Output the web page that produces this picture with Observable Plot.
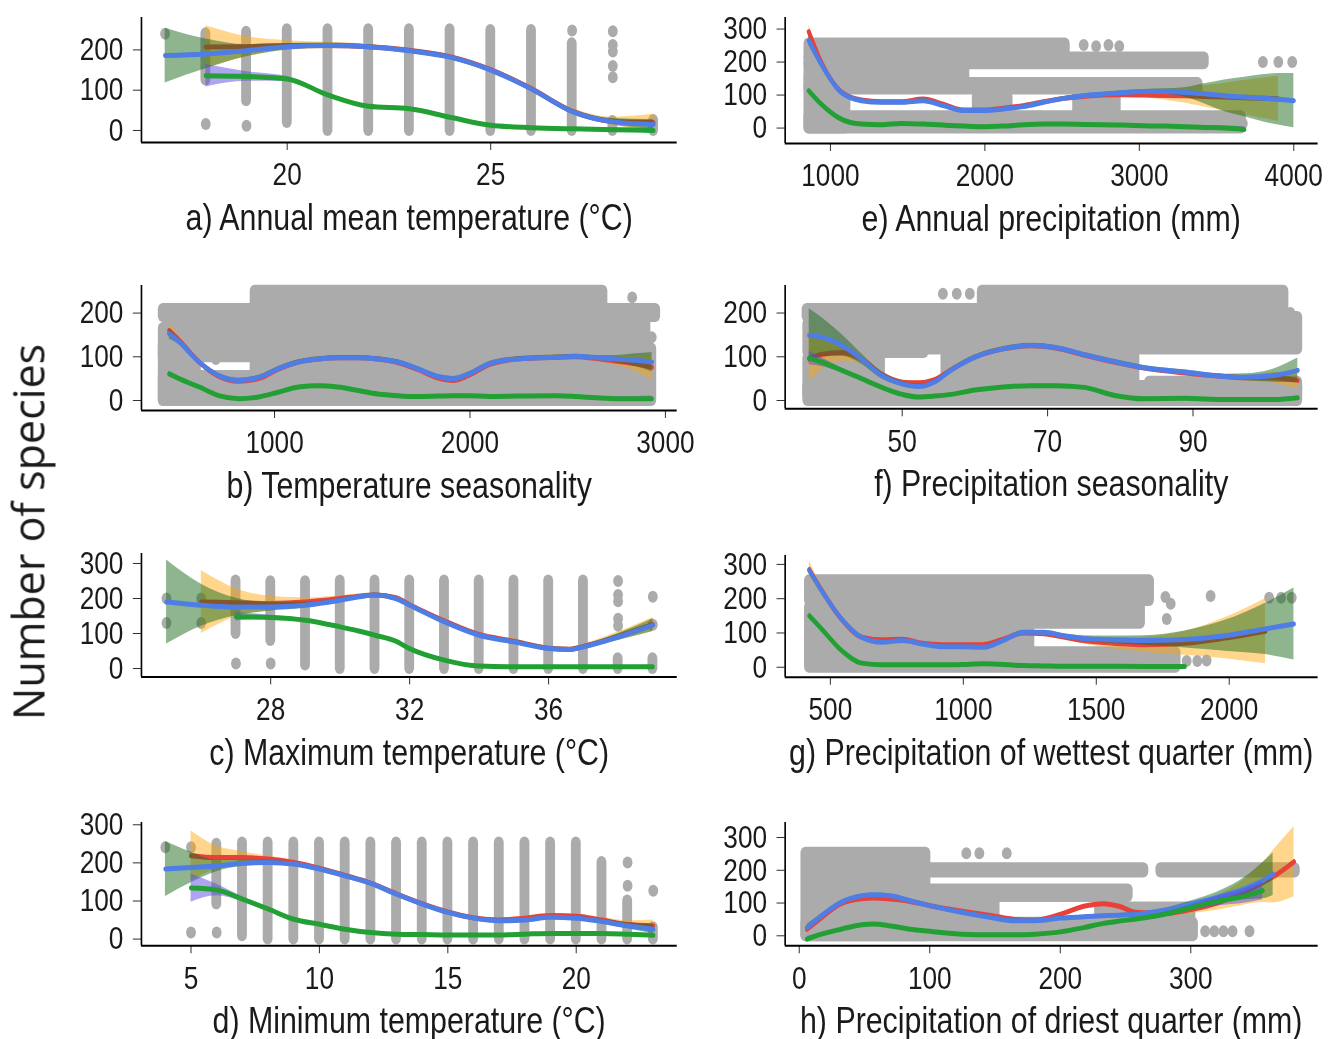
<!DOCTYPE html>
<html>
<head>
<meta charset="utf-8">
<script src="https://cdn.jsdelivr.net/npm/d3@7"></script>
<script src="https://cdn.jsdelivr.net/npm/@observablehq/plot@0.6"></script>
<style>
  html, body { margin: 0; padding: 0; background: #fff; width: 1333px; height: 1039px; overflow: hidden; }
  #stage { position: absolute; left: 0; top: 0; height: 1039px; transform-origin: 0 0; }
  .panel { position: absolute; }
  .title { position: absolute; text-align: center; font-family: 'Liberation Sans', Arial, sans-serif;
           font-size: 37px; line-height: 37px; color: #1a1a1a; white-space: nowrap; }
  #ylab { position: absolute; left: 28px; top: 532px; transform: translate(-50%, -50%) rotate(-90deg);
          font-family: 'Open Sans', sans-serif; font-size: 43px; line-height: 1; color: #1a1a1a; white-space: nowrap; }
</style>
</head>
<body>
<div id="stage"></div>
<div id="ylab">Number of species</div>
<script>
// ---------- a) Annual mean temperature ----------
const aCurveX  = [17, 18, 19, 20, 21, 22, 23, 24, 25, 26, 27, 28, 29];
const aRed     = [null, 207, 208, 211, 211, 208, 199, 183, 151, 104, 48, 23, 20];
const aBlue    = [186, 190, 198, 208, 211, 208, 198, 182, 150, 103, 47, 22, 15];
const aGreen   = [null, 136, 134, 128, 88, 60, 54, 33, 13, 7, 4, 2, 0];
const aRedCI   = [null, 53, 25, 12, 8, 6, 5, 5, 5, 6, 7, 10, 20];
const aBlueCI  = [68, 37, 15, 8, 6, 5, 5, 5, 5, 5, 6, 8, 12];
const aGreenCI = [null, 28, 12, 6, 5, 4, 4, 4, 3, 3, 3, 4, 6];
const aColumns = [[18, 125, 240], [19, 74, 244], [20, 20, 250], [21, 0, 250], [22, 0, 250], [23, 0, 250],
                  [24, 0, 250], [25, 0, 248], [26, 0, 248], [27, 0, 215], [28, 0, 22], [29, 0, 25]];
const aPoints  = [[17, 240], [18, 16], [19, 12], [27, 248], [28, 246], [28, 212], [28, 196], [28, 160], [28, 132]];

// ---------- e) Annual precipitation ----------
const eCurveX  = [860, 940, 1070, 1200, 1330, 1460, 1600, 1730, 1860, 1990, 2120, 2250, 2380, 2510, 2640, 2770, 2900, 3030, 3160, 3290, 3420, 3550, 3680, 3810, 3900, 4000];
const eRed     = [292, 200, 110, 85, 80, 80, 88, 72, 55, 55, 60, 68, 80, 90, 96, 100, 101, 100, 99, 98, 96, 94, 92, 90, 89, null];
const eBlue    = [265, 194, 108, 83, 78, 78, 83, 68, 53, 53, 58, 65, 78, 90, 98, 103, 108, 111, 111, 108, 104, 98, 94, 90, 87, 83];
const eGreen   = [113, 73, 27, 12, 10, 14, 12, 9, 6, 4, 6, 10, 12, 12, 11, 10, 9, 7, 6, 4, 2, 0, -4, null, null, null];
const eRedCI   = [20, 10, 6, 5, 5, 5, 5, 5, 5, 5, 5, 5, 5, 5, 5, 5, 6, 8, 14, 22, 32, 42, 52, 62, 68, null];
const eBlueCI  = [15, 8, 5, 5, 5, 5, 5, 5, 5, 5, 5, 5, 5, 5, 5, 5, 5, 6, 8, 14, 30, 48, 60, 72, 78, 82];
const eGreenCI = [8, 4, 3, 3, 3, 3, 3, 3, 3, 3, 3, 3, 3, 3, 3, 3, 3, 3, 3, 4, 5, 6, 8, null, null, null];
const eClouds  = [[860, 2520, 215, 255], [860, 3420, 195, 212], [860, 1870, 150, 195], [860, 3380, 118, 135],
                  [860, 1100, 0, 150], [860, 3660, 0, 34], [2600, 2850, 45, 100], [1950, 2150, 55, 95]];
const ePoints  = [[3800, 200], [3900, 200], [3990, 200], [2640, 252], [2720, 248], [2800, 252], [2870, 248], [3600, 20], [3670, 14]];

// ---------- b) Temperature seasonality ----------
const bCurveX  = [461, 512, 614, 715, 817, 919, 1020, 1122, 1224, 1325, 1427, 1528, 1630, 1732, 1833, 1915, 1996, 2098, 2240, 2443, 2545, 2646, 2748, 2850, 2931];
const bRed     = [160, 138, 88, 55, 44, 50, 72, 88, 95, 98, 98, 95, 87, 71, 52, 46, 58, 82, 95, 99, 100, 96, 90, 84, 76];
const bBlue    = [153, 134, 88, 57, 46, 53, 73, 88, 95, 98, 98, 95, 88, 73, 55, 50, 61, 84, 95, 99, 101, 98, 95, 92, 88];
const bGreen   = [61, 50, 31, 11, 4, 8, 19, 31, 34, 31, 23, 15, 11, 9, 10, 11, 11, 9, 10, 11, 9, 6, 4, 4, 4];
const bRedCI   = [18, 8, 5, 5, 5, 5, 5, 5, 5, 5, 5, 5, 5, 5, 5, 5, 5, 5, 5, 5, 5, 6, 10, 18, 28];
const bBlueCI  = [12, 6, 5, 5, 5, 5, 5, 5, 5, 5, 5, 5, 5, 5, 5, 5, 5, 5, 5, 5, 5, 5, 8, 15, 22];
const bGreenCI = [6, 4, 3, 3, 3, 3, 3, 3, 3, 3, 3, 3, 3, 3, 3, 3, 3, 3, 3, 3, 3, 3, 4, 5, 6];
const bClouds  = [[430, 2950, 192, 208], [900, 2680, 210, 250], [1000, 2900, 122, 190], [430, 1000, 100, 165],
                  [430, 2930, 0, 55], [900, 2930, 60, 118], [430, 600, 0, 125]];
const bPoints  = [[2830, 236], [2870, 170], [2930, 145], [700, 95]];

// ---------- f) Precipitation seasonality ----------
const fCurveX  = [37.2, 38.9, 41.7, 44.4, 47.2, 50, 52.2, 54.4, 56.7, 60, 63.9, 67.8, 71.1, 75, 79.4, 83.3, 88.9, 94.4, 97.2, 101.1, 104.4];
const fRed     = [95, 105, 110, 95, 60, 42, 40, 47, 70, 99, 118, 125, 120, 104, 87, 74, 63, 55, 52, 52, 46];
const fBlue    = [149, 145, 126, 95, 57, 38, 32, 42, 69, 99, 118, 126, 121, 105, 88, 75, 65, 55, 53, 57, 69];
const fGreen   = [97, 88, 69, 50, 30, 14, 8, 10, 14, 24, 31, 34, 34, 30, 11, 4, 5, 2, 2, 2, 6];
const fRedCI   = [50, 35, 20, 10, 6, 5, 5, 5, 5, 5, 5, 5, 5, 5, 5, 5, 5, 5, 6, 12, 20];
const fBlueCI  = [61, 45, 25, 12, 8, 6, 5, 5, 5, 5, 5, 5, 5, 5, 5, 5, 5, 5, 8, 15, 28];
const fGreenCI = [15, 10, 5, 4, 3, 3, 3, 3, 3, 3, 3, 3, 3, 3, 3, 3, 3, 3, 3, 4, 5];
const fClouds  = [[36.9, 102.5, 192, 208], [61, 102.5, 212, 250], [52, 104.4, 118, 190], [37, 53, 110, 175],
                  [37, 104.4, 0, 32], [56, 82, 42, 100], [84, 104.4, 22, 42], [37, 47, 10, 96]];
const fPoints  = [[55.6, 244], [57.5, 244], [59.3, 244], [103.4, 200], [101, 176], [39, 200]];

// ---------- c) Maximum temperature ----------
const cCurveX  = [25, 26, 27, 28, 29, 30, 30.5, 31, 31.6, 32, 33, 34, 35, 36, 36.6, 37, 38, 39];
const cRed     = [null, 190, 188, 186, 190, 200, 206, 210, 202, 182, 136, 97, 78, 58, 55, 63, 92, 126];
const cBlue    = [190, 181, 176, 176, 181, 195, 204, 210, 200, 181, 133, 95, 76, 57, 54, 62, 90, 124];
const cGreen   = [null, null, 148, 146, 138, 119, 108, 95, 78, 57, 24, 7, 5, 5, 5, 5, 5, 5];
const cRedCI   = [null, 90, 40, 20, 12, 8, 7, 6, 6, 6, 6, 6, 6, 6, 6, 7, 12, 20];
const cBlueCI  = [120, 60, 25, 12, 8, 6, 6, 6, 6, 6, 6, 6, 6, 6, 6, 6, 10, 18];
const cGreenCI = [null, null, 12, 6, 4, 4, 4, 4, 4, 4, 3, 3, 3, 3, 3, 3, 3, 4];
const cColumns = [[27, 100, 250], [28, 80, 248], [29, 10, 248], [30, 0, 250], [31, 0, 250], [32, 0, 250], [33, 0, 250],
                  [34, 0, 250], [35, 0, 250], [36, 0, 250], [37, 0, 250], [38, 0, 28], [39, 0, 28]];
const cPoints  = [[25, 200], [25, 130], [26, 200], [26, 130], [27, 14], [28, 14], [38, 250], [38, 210], [38, 192],
                  [38, 142], [38, 122], [39, 205], [39, 125]];

// ---------- g) Precipitation of wettest quarter ----------
const gCurveX  = [421, 467, 542, 618, 694, 770, 846, 922, 998, 1074, 1150, 1226, 1302, 1377, 1453, 1529, 1681, 1833, 1985, 2136, 2243];
const gRed     = [285, 225, 140, 88, 80, 82, 70, 66, 66, 66, 82, 100, 98, 88, 78, 72, 66, 70, 85, 105, null];
const gBlue    = [282, 223, 141, 87, 73, 78, 68, 60, 60, 58, 78, 102, 102, 92, 84, 81, 78, 81, 92, 112, 126];
const gGreen   = [150, 112, 49, 12, 7, 7, 7, 7, 8, 10, 8, 5, 4, 3, 3, 3, 2, 2, null, null, null];
const gRedCI   = [25, 10, 6, 5, 5, 5, 5, 5, 5, 5, 5, 5, 6, 8, 10, 14, 22, 35, 60, 95, null];
const gBlueCI  = [12, 8, 6, 5, 5, 5, 5, 5, 5, 5, 5, 5, 5, 6, 8, 10, 14, 25, 45, 75, 105];
const gGreenCI = [10, 6, 4, 3, 3, 3, 3, 3, 3, 3, 3, 3, 3, 3, 3, 3, 3, 4, null, null, null];
const gClouds  = [[421, 1700, 195, 252], [421, 1666, 128, 175], [421, 1250, 50, 118], [421, 1800, 0, 42]];
const gPoints  = [[1500, 250], [1560, 250], [1620, 252], [1760, 205], [1780, 185], [1930, 208], [2150, 203],
                  [2195, 203], [2235, 203], [1765, 141], [1840, 18], [1880, 18], [1915, 20]];

// ---------- d) Minimum temperature ----------
const dCurveX  = [4, 5, 6, 7, 8, 9, 10, 11, 12, 13, 14, 15, 16, 17, 18, 19, 20, 21, 22, 23];
const dRed     = [null, 219, 214, 214, 210, 201, 186, 167, 147, 119, 93, 71, 56, 50, 55, 62, 60, 50, 38, 35];
const dBlue    = [184, 188, 192, 199, 201, 197, 184, 166, 146, 118, 92, 70, 55, 48, 50, 57, 55, 46, 35, 26];
const dGreen   = [null, 134, 129, 105, 79, 52, 39, 26, 17, 13, 12, 11, 11, 11, 13, 15, 15, 15, 13, 10];
const dRedCI   = [null, 65, 30, 15, 8, 6, 5, 5, 5, 5, 5, 5, 5, 5, 5, 5, 6, 7, 10, 15];
const dBlueCI  = [72, 40, 15, 8, 6, 5, 5, 5, 5, 5, 5, 5, 5, 5, 5, 5, 5, 6, 8, 12];
const dGreenCI = [null, 37, 15, 6, 4, 3, 3, 3, 3, 3, 3, 3, 3, 3, 3, 3, 3, 3, 3, 4];
const dColumns = [[6, 92, 249], [7, 9, 252], [8, 0, 252], [9, 0, 252], [10, 0, 252], [11, 0, 252], [12, 0, 252],
                  [13, 0, 252], [14, 0, 252], [15, 0, 252], [16, 0, 252], [17, 0, 252], [18, 0, 252], [19, 0, 252],
                  [20, 0, 252], [21, 0, 201], [22, 0, 100], [23, 0, 30]];
const dPoints  = [[4, 241], [5, 241], [5, 17], [6, 17], [22, 201], [22, 140], [23, 127]];

// ---------- h) Precipitation of driest quarter ----------
const hCurveX  = [6, 17, 32, 48, 57, 70, 85, 100, 125, 147, 165, 181, 200, 218, 233, 245, 258, 280, 300, 320, 342, 355, 363, 379];
const hRed     = [20, 55, 98, 113, 115, 112, 105, 92, 75, 62, 50, 48, 65, 90, 98, 90, 72, 68, 80, 100, 135, 162, 180, 226];
const hBlue    = [25, 61, 102, 122, 125, 122, 107, 92, 71, 56, 46, 46, 54, 58, 61, 63, 66, 78, 97, 117, 145, 168, 188, null];
const hGreen   = [-10, 5, 20, 34, 36, 30, 20, 14, 5, 3, 3, 5, 12, 25, 38, 45, 51, 66, 86, 105, 122, 138, null, null];
const hRedCI   = [12, 6, 5, 5, 5, 5, 5, 5, 5, 5, 5, 5, 5, 5, 5, 5, 6, 8, 12, 22, 40, 60, 80, 107];
const hBlueCI  = [10, 6, 5, 5, 5, 5, 5, 5, 5, 5, 5, 5, 5, 5, 5, 5, 5, 6, 9, 16, 35, 55, 65, null];
const hGreenCI = [8, 5, 4, 4, 4, 4, 4, 4, 3, 3, 3, 3, 3, 3, 4, 4, 5, 6, 8, 14, 22, 28, null, null];
const hClouds  = [[5, 97, 0, 252], [97, 264, 195, 205], [277, 380, 195, 205], [97, 252, 120, 140],
                  [5, 302, 0, 38], [230, 300, 40, 85], [97, 150, 60, 118]];
const hPoints  = [[128, 252], [138, 252], [159, 252], [311, 14], [318, 14], [325, 14], [332, 14], [345, 14], [379, 200]];

// ---------- layout & styling ----------
const SQUISH = 0.82;                 // horizontal compression of the figure
const GRAY = "#ABABAB", RED = "#E8413A", BLUE = "#4F7DE6", GREEN = "#22A033";
const ORANGE = "#FFA500", DKGREEN = "#1E6B1E", PURPLE = "#5B4BE0";
const R = 6;                          // point radius
const M = {left: 110, right: 60, top: 20, bottom: 60};
const FONT = "'Liberation Sans', Arial, Helvetica, sans-serif";

const stage = document.getElementById("stage");
stage.style.width = (1333 / SQUISH) + "px";
stage.style.transform = `scaleX(${SQUISH})`;

const LEFT = {left: 141.3, right: 677}, RIGHT = {left: 784.8, right: 1317.7};

const panels = [
  {title: "a) Annual mean temperature (°C)", col: LEFT, top: 16.7, bottom: 141.7,
   xDomain: [16.42, 29.58], yDomain: [-29.8, 280.4], xTicks: [20, 25], yTicks: [0, 100, 200],
   x: aCurveX, red: aRed, blue: aBlue, green: aGreen, redCI: aRedCI, blueCI: aBlueCI, greenCI: aGreenCI,
   columns: aColumns, clouds: [], points: aPoints},
  {title: "e) Annual precipitation (mm)", col: RIGHT, top: 16.7, bottom: 142.7,
   xDomain: [707, 4157], yDomain: [-46.7, 335], xTicks: [1000, 2000, 3000, 4000], yTicks: [0, 100, 200, 300],
   x: eCurveX, red: eRed, blue: eBlue, green: eGreen, redCI: eRedCI, blueCI: eBlueCI, greenCI: eGreenCI,
   columns: [], clouds: eClouds, points: ePoints},
  {title: "b) Temperature seasonality", col: LEFT, top: 285, bottom: 410,
   xDomain: [319, 3060], yDomain: [-22.9, 263.2], xTicks: [1000, 2000, 3000], yTicks: [0, 100, 200],
   x: bCurveX, red: bRed, blue: bBlue, green: bGreen, redCI: bRedCI, blueCI: bBlueCI, greenCI: bGreenCI,
   columns: [], clouds: bClouds, points: bPoints},
  {title: "f) Precipitation seasonality", col: RIGHT, top: 285, bottom: 408.3,
   xDomain: [33.9, 107.2], yDomain: [-19, 263], xTicks: [50, 70, 90], yTicks: [0, 100, 200],
   x: fCurveX, red: fRed, blue: fBlue, green: fGreen, redCI: fRedCI, blueCI: fBlueCI, greenCI: fGreenCI,
   columns: [], clouds: fClouds, points: fPoints},
  {title: "c) Maximum temperature (°C)", col: LEFT, top: 553.3, bottom: 676.7,
   xDomain: [24.28, 39.7], yDomain: [-24, 328.6], xTicks: [28, 32, 36], yTicks: [0, 100, 200, 300],
   x: cCurveX, red: cRed, blue: cBlue, green: cGreen, redCI: cRedCI, blueCI: cBlueCI, greenCI: cGreenCI,
   columns: cColumns, clouds: [], points: cPoints},
  {title: "g) Precipitation of wettest quarter (mm)", col: RIGHT, top: 555, bottom: 676.7,
   xDomain: [330, 2334], yDomain: [-29, 326], xTicks: [500, 1000, 1500, 2000], yTicks: [0, 100, 200, 300],
   x: gCurveX, red: gRed, blue: gBlue, green: gGreen, redCI: gRedCI, blueCI: gBlueCI, greenCI: gGreenCI,
   columns: [], clouds: gClouds, points: gPoints},
  {title: "d) Minimum temperature (°C)", col: LEFT, top: 821.7, bottom: 945,
   xDomain: [3.07, 23.93], yDomain: [-17.6, 306], xTicks: [5, 10, 15, 20], yTicks: [0, 100, 200, 300],
   x: dCurveX, red: dRed, blue: dBlue, green: dGreen, redCI: dRedCI, blueCI: dBlueCI, greenCI: dGreenCI,
   columns: dColumns, clouds: [], points: dPoints},
  {title: "h) Precipitation of driest quarter (mm)", col: RIGHT, top: 821.7, bottom: 945,
   xDomain: [-10.8, 397.5], yDomain: [-30.5, 345.8], xTicks: [0, 100, 200, 300], yTicks: [0, 100, 200, 300],
   x: hCurveX, red: hRed, blue: hBlue, green: hGreen, redCI: hRedCI, blueCI: hBlueCI, greenCI: hGreenCI,
   columns: [], clouds: hClouds, points: hPoints}
];

function drawPanel(p) {
  const L = p.col.left / SQUISH, Rt = p.col.right / SQUISH;
  const W = Rt - L, H = p.bottom - p.top;
  const rows = p.x.map((x, i) => ({x, red: p.red[i], blue: p.blue[i], green: p.green[i],
                                    redCI: p.redCI[i], blueCI: p.blueCI[i], greenCI: p.greenCI[i]}));
  const spans = p.columns.map(([x, lo, hi]) => [x, x, lo, hi]).concat(p.clouds);
  const band = (key, ci, fill, op) => Plot.areaY(rows.filter(d => d[key] != null && d[ci] != null), {
    x: "x", y1: d => d[key] - d[ci], y2: d => d[key] + d[ci], fill, fillOpacity: op, curve: "monotone-x"});
  const line = (key, stroke) => Plot.line(rows.filter(d => d[key] != null), {
    x: "x", y: key, stroke, strokeWidth: 5, curve: "monotone-x"});

  const svg = Plot.plot({
    width: W + M.left + M.right, height: H + M.top + M.bottom,
    marginLeft: M.left, marginRight: M.right, marginTop: M.top, marginBottom: M.bottom,
    x: {domain: p.xDomain, ticks: p.xTicks, tickFormat: "d", tickSize: 8, tickPadding: 12, label: null},
    y: {domain: p.yDomain, ticks: p.yTicks, tickFormat: "d", tickSize: 10, tickPadding: 12, label: null},
    style: {fontSize: "32px", fontFamily: FONT, color: "#1a1a1a", background: "transparent", overflow: "visible"},
    marks: [
      Plot.rect(spans, {x1: d => d[0], x2: d => d[1], y1: d => d[2], y2: d => d[3], fill: GRAY, rx: R, inset: -R}),
      Plot.dot(p.points, {x: d => d[0], y: d => d[1], r: R, fill: GRAY}),
      band("red", "redCI", ORANGE, 0.45),
      line("red", RED),
      band("blue", "blueCI", DKGREEN, 0.5),
      line("blue", BLUE),
      band("green", "greenCI", PURPLE, 0.5),
      line("green", GREEN),
      Plot.ruleY([p.yDomain[0]], {stroke: "#000", strokeWidth: 2}),
      Plot.ruleX([p.xDomain[0]], {stroke: "#000", strokeWidth: 2})
    ]
  });
  svg.classList.add("panel");
  svg.style.left = (L - M.left) + "px";
  svg.style.top = (p.top - M.top) + "px";
  stage.appendChild(svg);

  const t = document.createElement("div");
  t.className = "title";
  t.textContent = p.title;
  t.style.left = ((L + Rt) / 2 - 500) + "px";
  t.style.width = "1000px";
  t.style.top = (p.bottom + 75 - 18) + "px";
  stage.appendChild(t);
}

panels.forEach(drawPanel);
</script>
</body>
</html>
